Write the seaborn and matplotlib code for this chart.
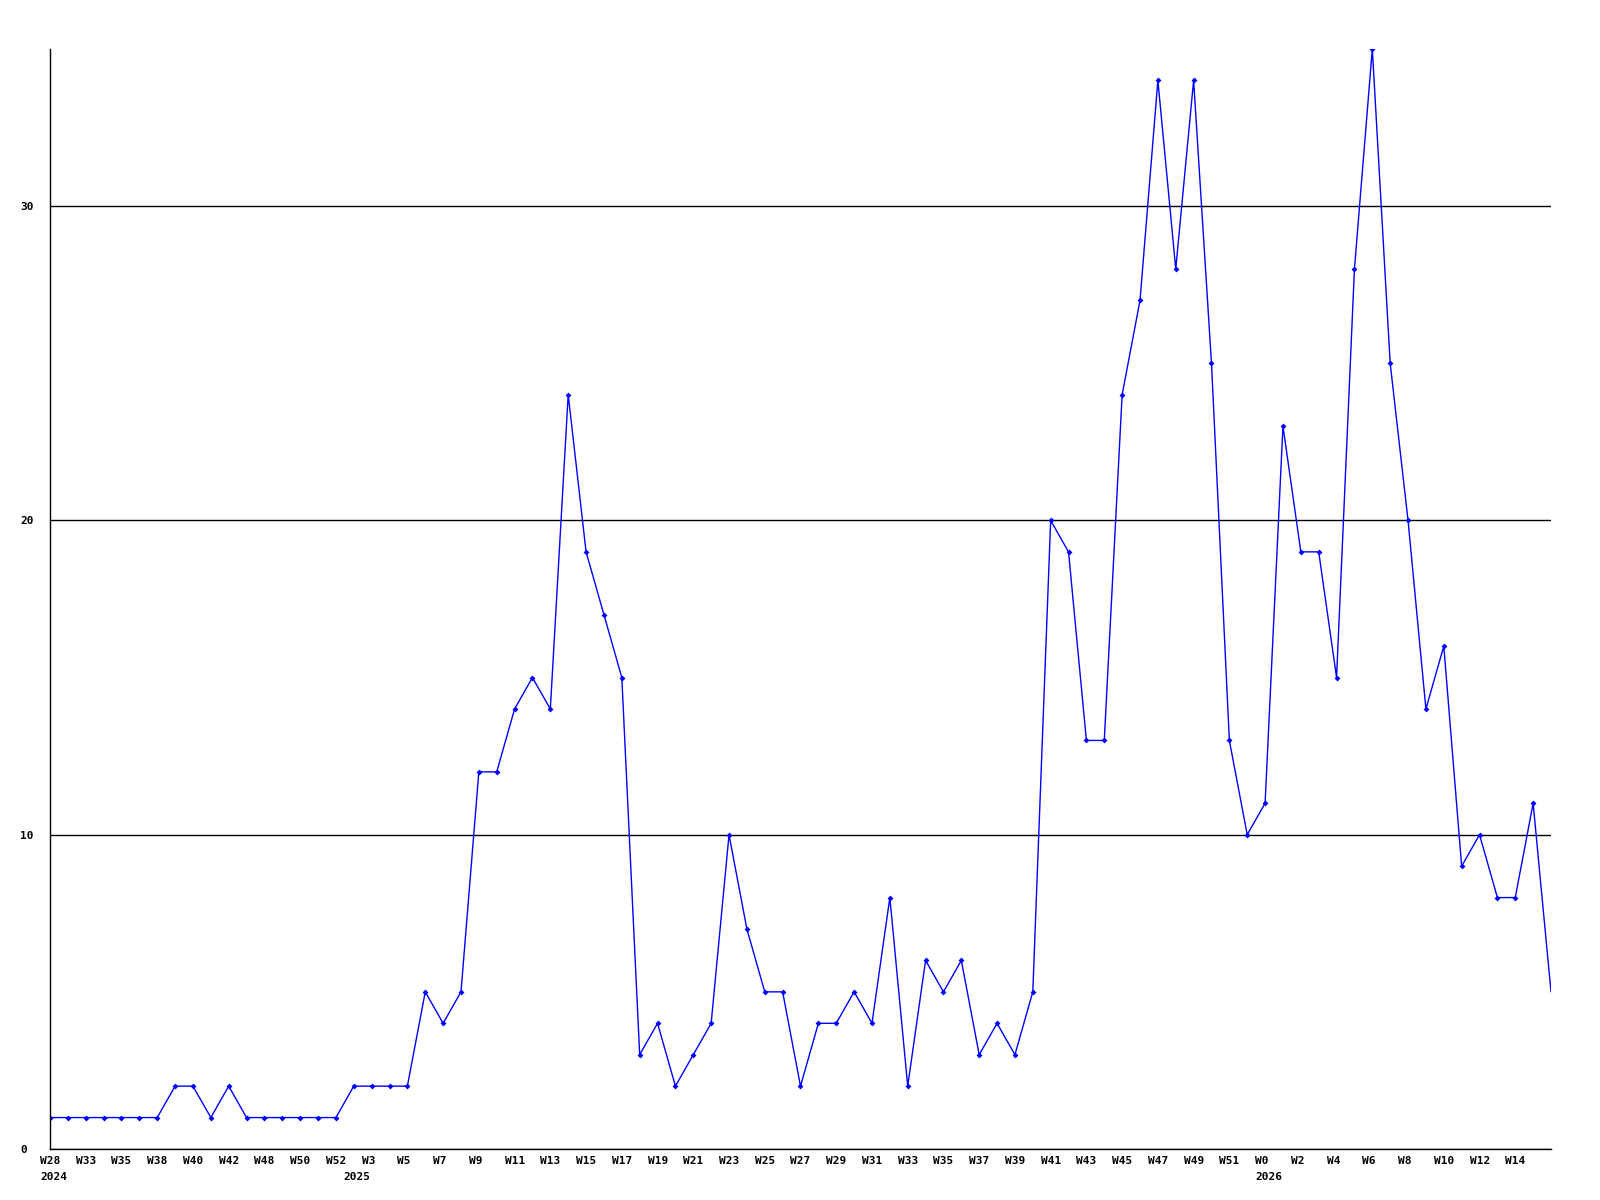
import matplotlib
matplotlib.use("Agg")
import matplotlib.pyplot as plt
import matplotlib.transforms as mtransforms
import seaborn as sns
import pandas as pd

# weekly counts, one point per week shown on the chart
counts = [1, 1, 1, 1, 1, 1, 1, 2, 2, 1, 2, 1, 1, 1, 1, 1, 1, 2, 2, 2,
          2, 5, 4, 5, 12, 12, 14, 15, 14, 24, 19, 17, 15, 3, 4, 2, 3, 4, 10, 7,
          5, 5, 2, 4, 4, 5, 4, 8, 2, 6, 5, 6, 3, 4, 3, 5, 20, 19, 13, 13,
          24, 27, 34, 28, 34, 25, 13, 10, 11, 23, 19, 19, 15, 28, 35, 25, 20, 14, 16, 9,
          10, 8, 8, 11, 5]

# labels on every second point
week_labels = ["W28", "W33", "W35", "W38", "W40", "W42", "W48", "W50", "W52", "W3",
               "W5", "W7", "W9", "W11", "W13", "W15", "W17", "W19", "W21", "W23",
               "W25", "W27", "W29", "W31", "W33", "W35", "W37", "W39", "W41", "W43",
               "W45", "W47", "W49", "W51", "W0", "W2", "W4", "W6", "W8", "W10",
               "W12", "W14"]

years = ["2024", "2025", "2026"]
year_pos = [0, 17, 68]

y_ticks = [0, 10, 20, 30]

df = pd.DataFrame({"idx": range(len(counts)), "count": counts})

sns.set_style("white")
plt.rcParams["font.family"] = ["DejaVu Sans Mono"]
plt.rcParams["font.weight"] = "bold"
plt.rcParams["text.color"] = "black"
plt.rcParams["xtick.color"] = "black"
plt.rcParams["ytick.color"] = "black"

fig = plt.figure(figsize=(16, 12), dpi=100)
ax = fig.add_axes([50 / 1600, 1 - 1149 / 1200, 1501 / 1600, 1100 / 1200])

sns.lineplot(data=df, x="idx", y="count", ax=ax, color="#0000ff", linewidth=1,
             marker="D", markersize=3, markeredgewidth=0,
             markevery=list(range(len(counts) - 1)))

ax.set_xlim(0, len(counts) - 1)
ax.set_ylim(0, 35)
ax.set_xlabel("")
ax.set_ylabel("")

ax.set_yticks(y_ticks)
ax.set_yticklabels([str(v) for v in y_ticks], fontsize=8, fontweight="bold", color="black")
ax.tick_params(axis="y", length=0, pad=21.6)
for lbl in ax.get_yticklabels():
    lbl.set_horizontalalignment("left")

ax.set_xticks(list(range(0, len(counts) - 1, 2)))
ax.set_xticklabels(week_labels, fontsize=8, fontweight="bold", color="black")
ax.tick_params(axis="x", length=0, pad=5)
shift = mtransforms.ScaledTranslation(-10 / 100, 0, fig.dpi_scale_trans)
for lbl in ax.get_xticklabels():
    lbl.set_horizontalalignment("left")
    lbl.set_transform(lbl.get_transform() + shift)

year_tr = mtransforms.blended_transform_factory(ax.transData, ax.transAxes) + \
    mtransforms.ScaledTranslation(-10 / 100, -23 / 100, fig.dpi_scale_trans)
for yr, p in zip(years, year_pos):
    ax.text(p, 0, yr, transform=year_tr, ha="left", va="top", fontsize=8,
            fontweight="bold", color="black")

ax.yaxis.grid(True, color="black", linewidth=1)
ax.xaxis.grid(False)
for side in ["top", "right"]:
    ax.spines[side].set_visible(False)
for side in ["left", "bottom"]:
    ax.spines[side].set_color("black")
    ax.spines[side].set_linewidth(1)

fig.savefig("out.png", dpi=100, facecolor="white")
